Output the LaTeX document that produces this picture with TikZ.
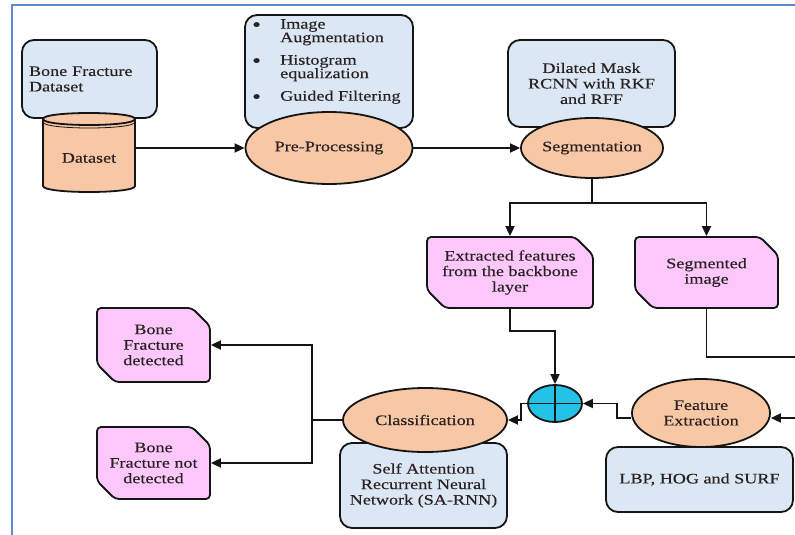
\documentclass[tikz,border=0pt]{standalone}
\usepackage{fontspec}
\setmainfont{Liberation Serif}[FakeStretch=1.25,FakeBold=0.3]
\usetikzlibrary{shapes.geometric,shapes.misc,arrows.meta}
\definecolor{frameblue}{HTML}{5B8BD0}
\definecolor{boxblue}{HTML}{DBE7F4}
\definecolor{peach}{HTML}{F8C8A6}
\definecolor{pinkfill}{HTML}{FCC8FC}
\definecolor{cyanfill}{HTML}{22C3E6}
\definecolor{txt}{HTML}{2A2222}
\definecolor{edge}{HTML}{151515}
\newcommand{\blt}{\makebox[28pt][l]{\raisebox{-2.5pt}{\fontsize{20}{13}\selectfont\textbullet}}}
\begin{document}
\begin{tikzpicture}[x=1pt,y=-1pt,
  every node/.style={font=\fontsize{14.5}{15.5}\selectfont, text=txt, inner sep=0pt},
  bluebox/.style={draw=edge, line width=1.8pt, fill=boxblue, rounded corners=12pt, rectangle, align=center},
  oval/.style={draw=edge, line width=1.8pt, fill=peach, ellipse, align=center},
  pinkbox/.style={draw=edge, line width=1.8pt, fill=pinkfill, chamfered rectangle,
    chamfered rectangle corners={north east,south west}, chamfered rectangle angle=45,
    chamfered rectangle xsep=9pt, chamfered rectangle ysep=9pt,
    rounded corners=4pt, align=center},
  conn/.style={line width=1.8pt, draw=edge},
  arr/.style={conn, -{Triangle[length=10pt,width=9pt]}},
]
\useasboundingbox (0,0) rectangle (795,535);
\draw[frameblue, line width=2.2pt] (12,535) -- (12,5) -- (795,5);

% Bone fracture dataset
\node[bluebox, minimum width=135pt, minimum height=78pt, text width=121pt, align=left] (bfd) at (89.5,79) {Bone Fracture\\Dataset};
\fill[peach] (43,119) -- (43,186) .. controls (43,194) and (135,194) .. (135,186) -- (135,119) .. controls (135,111) and (43,111) .. (43,119) -- cycle;
\draw[conn] (43,119) -- (43,186) .. controls (43,194) and (135,194) .. (135,186) -- (135,119);
\draw[conn] (43,119) .. controls (43,111) and (135,111) .. (135,119) .. controls (135,127) and (43,127) .. (43,119);
\draw[edge, line width=0.8pt] (43,122) .. controls (43,130) and (135,130) .. (135,122);
\node[minimum width=92pt] (ds) at (89,158) {Dataset};

% Pre-processing
\node[bluebox, minimum width=168pt, minimum height=113pt] (ppbox) at (329,71.5) {};
\node[anchor=west, align=left, font=\fontsize{14.5}{13.5}\selectfont] (pplist) at (252,61.5)
  {\blt Image\\
   \hspace*{28pt}Augmentation\\[9pt]
   \blt Histogram\\
   \hspace*{28pt}equalization\\[9pt]
   \blt Guided Filtering};
\node[oval, minimum width=167pt, minimum height=72pt] (pp) at (329,148) {Pre-Processing};

% Segmentation
\node[bluebox, minimum width=167pt, minimum height=87pt] (dil) at (591.5,83.5) {Dilated Mask\\RCNN with RKF\\and RFF};
\node[oval, minimum width=142pt, minimum height=60pt] (seg) at (592,148) {Segmentation};

\node[pinkbox, minimum width=166pt, minimum height=71pt] (ext) at (510,272.5) {Extracted features\\from the backbone\\layer};
\node[pinkbox, minimum width=143pt, minimum height=71pt] (segimg) at (706.5,272.5) {Segmented\\image};

% Feature extraction
\node[bluebox, minimum width=187pt, minimum height=65pt] (lbp) at (699.5,479.5) {LBP, HOG and SURF};
\node[oval, minimum width=138pt, minimum height=68pt] (fe) at (701,413) {Feature\\Extraction};

% Fusion
\node[ellipse, draw=edge, line width=1.8pt, fill=cyanfill, minimum width=54pt, minimum height=37pt] (plus) at (555,403.5) {};
\draw[conn] (plus.north) -- (plus.south) (plus.west) -- (plus.east);

% Classification
\node[bluebox, minimum width=167pt, minimum height=85pt] (sa) at (423.5,485.5) {Self Attention\\Recurrent Neural\\Network (SA-RNN)};
\node[oval, minimum width=164pt, minimum height=64pt] (cls) at (425,420) {Classification};

\node[pinkbox, minimum width=113pt, minimum height=74pt] (det) at (153.5,345) {Bone\\Fracture\\detected};
\node[pinkbox, minimum width=113pt, minimum height=72pt] (ndet) at (153.5,463) {Bone\\Fracture not\\detected};

% Connectors
\draw[arr] (ds.east |- pp.west) -- (pp.west);
\draw[arr] (pp.east) -- (seg.west);
\draw[conn] (seg.south) -- (592,203) coordinate (split);
\draw[arr] (split) -| (ext.north);
\draw[arr] (split) -| (segimg.north);
\coordinate (exitR) at (795,357);
\draw[conn] (segimg.south) |- (exitR);
\coordinate (entR) at (795,418);
\draw[arr] (entR) -- (entR -| fe.east);
\draw[arr] (ext.south) -- ++(0,22) -| (plus.north);
\draw[arr] ([yshift=-5pt]fe.west) -- ++(-14,0) |- (plus.east);
\draw[arr] (plus.west) -- ++(-6,0) |- (cls.east);
\draw[conn] (cls.west) -- (312,420) coordinate (br);
\draw[arr] (br) |- (det.east);
\draw[arr] (br) |- (ndet.east);
\end{tikzpicture}
\end{document}
